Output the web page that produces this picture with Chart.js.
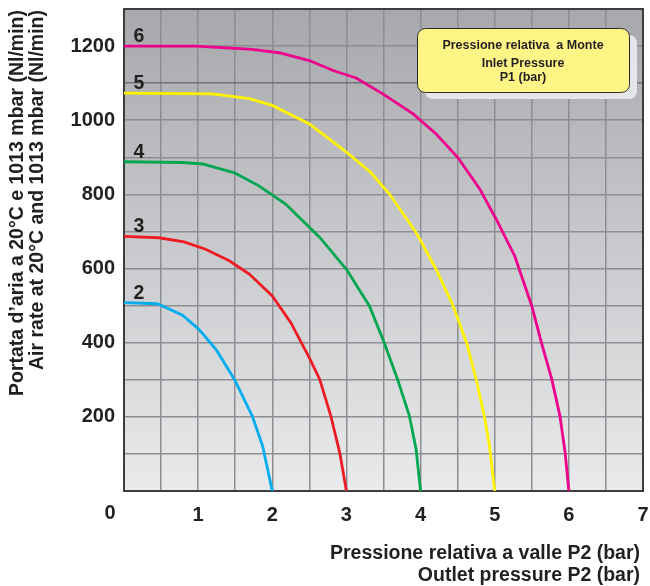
<!DOCTYPE html>
<html>
<head>
<meta charset="utf-8">
<script src="https://cdn.jsdelivr.net/npm/chart.js@4.4.1/dist/chart.umd.min.js"></script>
<style>
  html, body { margin: 0; padding: 0; background: #ffffff; }
  #wrap { width: 650px; height: 586px; }
</style>
</head>
<body>
<div id="wrap"><canvas id="flow"></canvas></div>
<script>
// Outlet pressure P2 (bar) and air rate (Nl/min) for each inlet pressure P1
const outletP1_2 = [0, 0.45, 0.79, 1.01, 1.24, 1.49, 1.73, 1.87, 2.0];
const airRateP1_2 = [508, 505, 474, 436, 382, 301, 202, 121, 0];

const outletP1_3 = [0, 0.47, 0.81, 1.10, 1.42, 1.69, 2.0, 2.25, 2.5, 2.64, 2.79, 2.91, 3.0];
const airRateP1_3 = [687, 683, 672, 652, 621, 585, 526, 454, 359, 301, 202, 103, 0];

const outletP1_4 = [0, 0.79, 1.06, 1.49, 1.82, 2.18, 2.64, 3.0, 3.31, 3.51, 3.69, 3.85, 3.94, 4.0];
const airRateP1_4 = [888, 886, 882, 858, 823, 774, 684, 598, 499, 400, 301, 202, 112, 0];

const outletP1_5 = [0, 1.19, 1.69, 2.0, 2.5, 3.0, 3.33, 3.58, 3.94, 4.21, 4.44, 4.62, 4.75, 4.86, 4.93, 5.0];
const airRateP1_5 = [1073, 1071, 1058, 1040, 990, 914, 859, 801, 697, 598, 499, 400, 301, 202, 121, 0];

const outletP1_6 = [0, 0.97, 1.73, 2.09, 2.5, 2.82, 3.13, 3.49, 3.90, 4.21, 4.5, 4.80, 5.02, 5.27, 5.50, 5.63, 5.77, 5.88, 5.95, 6.0];
const airRateP1_6 = [1200, 1200, 1191, 1182, 1161, 1134, 1114, 1071, 1017, 963, 900, 814, 733, 634, 499, 400, 301, 202, 103, 0];

const inletLabels = ['2', '3', '4', '5', '6'];
const curveColors = ['#00aeef', '#ed1c24', '#00a651', '#fff200', '#ec008c'];

const xTickLabels = ['0', '1', '2', '3', '4', '5', '6', '7'];
const yTickLabels = ['200', '400', '600', '800', '1000', '1200'];

const yTitleLines = ['Portata d\u2019aria a 20°C e 1013 mbar (Nl/min)', 'Air rate at 20°C and 1013 mbar (Nl/min)'];
const xTitleLines = ['Pressione relativa a valle P2 (bar)', 'Outlet pressure P2 (bar)'];
const boxLines = ['Pressione relativa  a Monte', 'Inlet Pressure', 'P1 (bar)'];

const series = [
  [outletP1_2, airRateP1_2],
  [outletP1_3, airRateP1_3],
  [outletP1_4, airRateP1_4],
  [outletP1_5, airRateP1_5],
  [outletP1_6, airRateP1_6]
];

const FONT = '"Liberation Sans", Arial, Helvetica, sans-serif';
const INK = '#231f20';

const datasets = series.map(([xs, ys], i) => ({
  label: inletLabels[i],
  data: xs.map((x, k) => ({ x: x, y: ys[k] })),
  showLine: true,
  borderColor: curveColors[i],
  backgroundColor: curveColors[i],
  borderWidth: 2.8,
  pointRadius: 0,
  tension: 0,
  fill: false
}));

// Gradient panel, frame, curve numbers, note box and axis titles
const decorations = {
  id: 'decorations',
  beforeDraw(chart) {
    const { ctx, chartArea: a } = chart;
    const g = ctx.createLinearGradient(0, a.top, 0, a.bottom);
    g.addColorStop(0, '#a6a8ac');
    g.addColorStop(0.5, '#c9cacd');
    g.addColorStop(1, '#e9eaeb');
    ctx.save();
    ctx.fillStyle = g;
    ctx.fillRect(a.left, a.top, a.right - a.left, a.bottom - a.top);
    ctx.restore();
  },
  beforeDatasetsDraw(chart) {
    const { ctx, chartArea: a } = chart;
    ctx.save();
    ctx.strokeStyle = '#3d3d3f';
    ctx.lineWidth = 2;
    ctx.strokeRect(a.left, a.top, a.right - a.left, a.bottom - a.top);
    ctx.restore();
  },
  afterDatasetsDraw(chart) {
    const { ctx, chartArea: a, scales } = chart;
    const xs = scales.x, ys = scales.y;
    ctx.save();

    // inlet pressure numbers above each curve
    ctx.fillStyle = INK;
    ctx.font = 'bold 19.5px ' + FONT;
    ctx.textAlign = 'center';
    ctx.textBaseline = 'alphabetic';
    series.forEach(([, vals], i) => {
      ctx.fillText(inletLabels[i], xs.getPixelForValue(0.2), ys.getPixelForValue(vals[0]) - 4);
    });

    // note box with shadow
    const bx = a.right - 226, by = a.top + 19, bw = 212, bh = 64, r = 8;
    ctx.fillStyle = '#e5e6e8';
    ctx.beginPath();
    ctx.roundRect(bx + 8, by + 7, bw, bh, r);
    ctx.fill();
    ctx.fillStyle = '#fff587';
    ctx.strokeStyle = '#2b2b2b';
    ctx.lineWidth = 1;
    ctx.beginPath();
    ctx.roundRect(bx + 0.5, by + 0.5, bw, bh, r);
    ctx.fill();
    ctx.stroke();
    ctx.fillStyle = INK;
    ctx.font = 'bold 12.5px ' + FONT;
    ctx.textAlign = 'center';
    const cx = bx + bw / 2;
    ctx.fillText(boxLines[0], cx, by + 21);
    ctx.fillText(boxLines[1], cx, by + 39);
    ctx.fillText(boxLines[2], cx, by + 53);

    // origin label shared by both axes
    ctx.font = 'bold 20px ' + FONT;
    ctx.textAlign = 'center';
    ctx.textBaseline = 'middle';
    ctx.fillText(xTickLabels[0], a.left - 14, a.bottom + 22);

    // x axis title, right aligned
    ctx.font = 'bold 19.5px ' + FONT;
    ctx.textAlign = 'right';
    ctx.textBaseline = 'alphabetic';
    ctx.fillText(xTitleLines[0], a.right - 3, a.bottom + 68);
    ctx.fillText(xTitleLines[1], a.right - 3, a.bottom + 89.5);

    // y axis title, rotated, ending near the top
    ctx.textAlign = 'right';
    ctx.textBaseline = 'middle';
    [18, 38].forEach((x, i) => {
      ctx.save();
      ctx.translate(x, 10);
      ctx.rotate(-Math.PI / 2);
      ctx.fillText(yTitleLines[i], 0, 0);
      ctx.restore();
    });
    ctx.restore();
  }
};

new Chart(document.getElementById('flow'), {
  type: 'scatter',
  data: { datasets },
  options: {
    responsive: true,
    maintainAspectRatio: false,
    animation: false,
    layout: { padding: { top: 9, right: 7, bottom: 0, left: 0 } },
    plugins: { legend: { display: false }, tooltip: { enabled: false } },
    scales: {
      x: {
        type: 'linear',
        min: 0,
        max: 7,
        afterFit(scale) {
          scale.height = 95;
          scale.paddingLeft = 0;
          scale.paddingRight = 0;
        },
        afterBuildTicks(scale) {
          const t = [];
          for (let v = 0; v <= 7; v += 0.5) t.push({ value: v });
          scale.ticks = t;
        },
        ticks: {
          autoSkip: false,
          maxRotation: 0,
          padding: 12,
          color: INK,
          font: { family: FONT, size: 20, weight: 'bold' },
          callback: v => (Number.isInteger(v) && v > 0) ? xTickLabels[v] : ''
        },
        grid: { color: '#8d8e92', lineWidth: 1.5, drawTicks: false },
        border: { display: false }
      },
      y: {
        type: 'linear',
        min: 0,
        max: 1300,
        afterFit(scale) {
          scale.width = 124;
          scale.paddingTop = 0;
          scale.paddingBottom = 0;
        },
        afterBuildTicks(scale) {
          const t = [];
          for (let v = 0; v <= 1300; v += 100) t.push({ value: v });
          scale.ticks = t;
        },
        ticks: {
          autoSkip: false,
          padding: 9,
          color: INK,
          font: { family: FONT, size: 20, weight: 'bold' },
          callback: v => (v > 0 && v % 200 === 0) ? yTickLabels[v / 200 - 1] : ''
        },
        grid: {
          color: c => (c.tick && c.tick.value === 1100) ? '#737478' : '#8d8e92',
          lineWidth: 1.5,
          drawTicks: false
        },
        border: { display: false }
      }
    }
  },
  plugins: [decorations]
});
</script>
</body>
</html>
